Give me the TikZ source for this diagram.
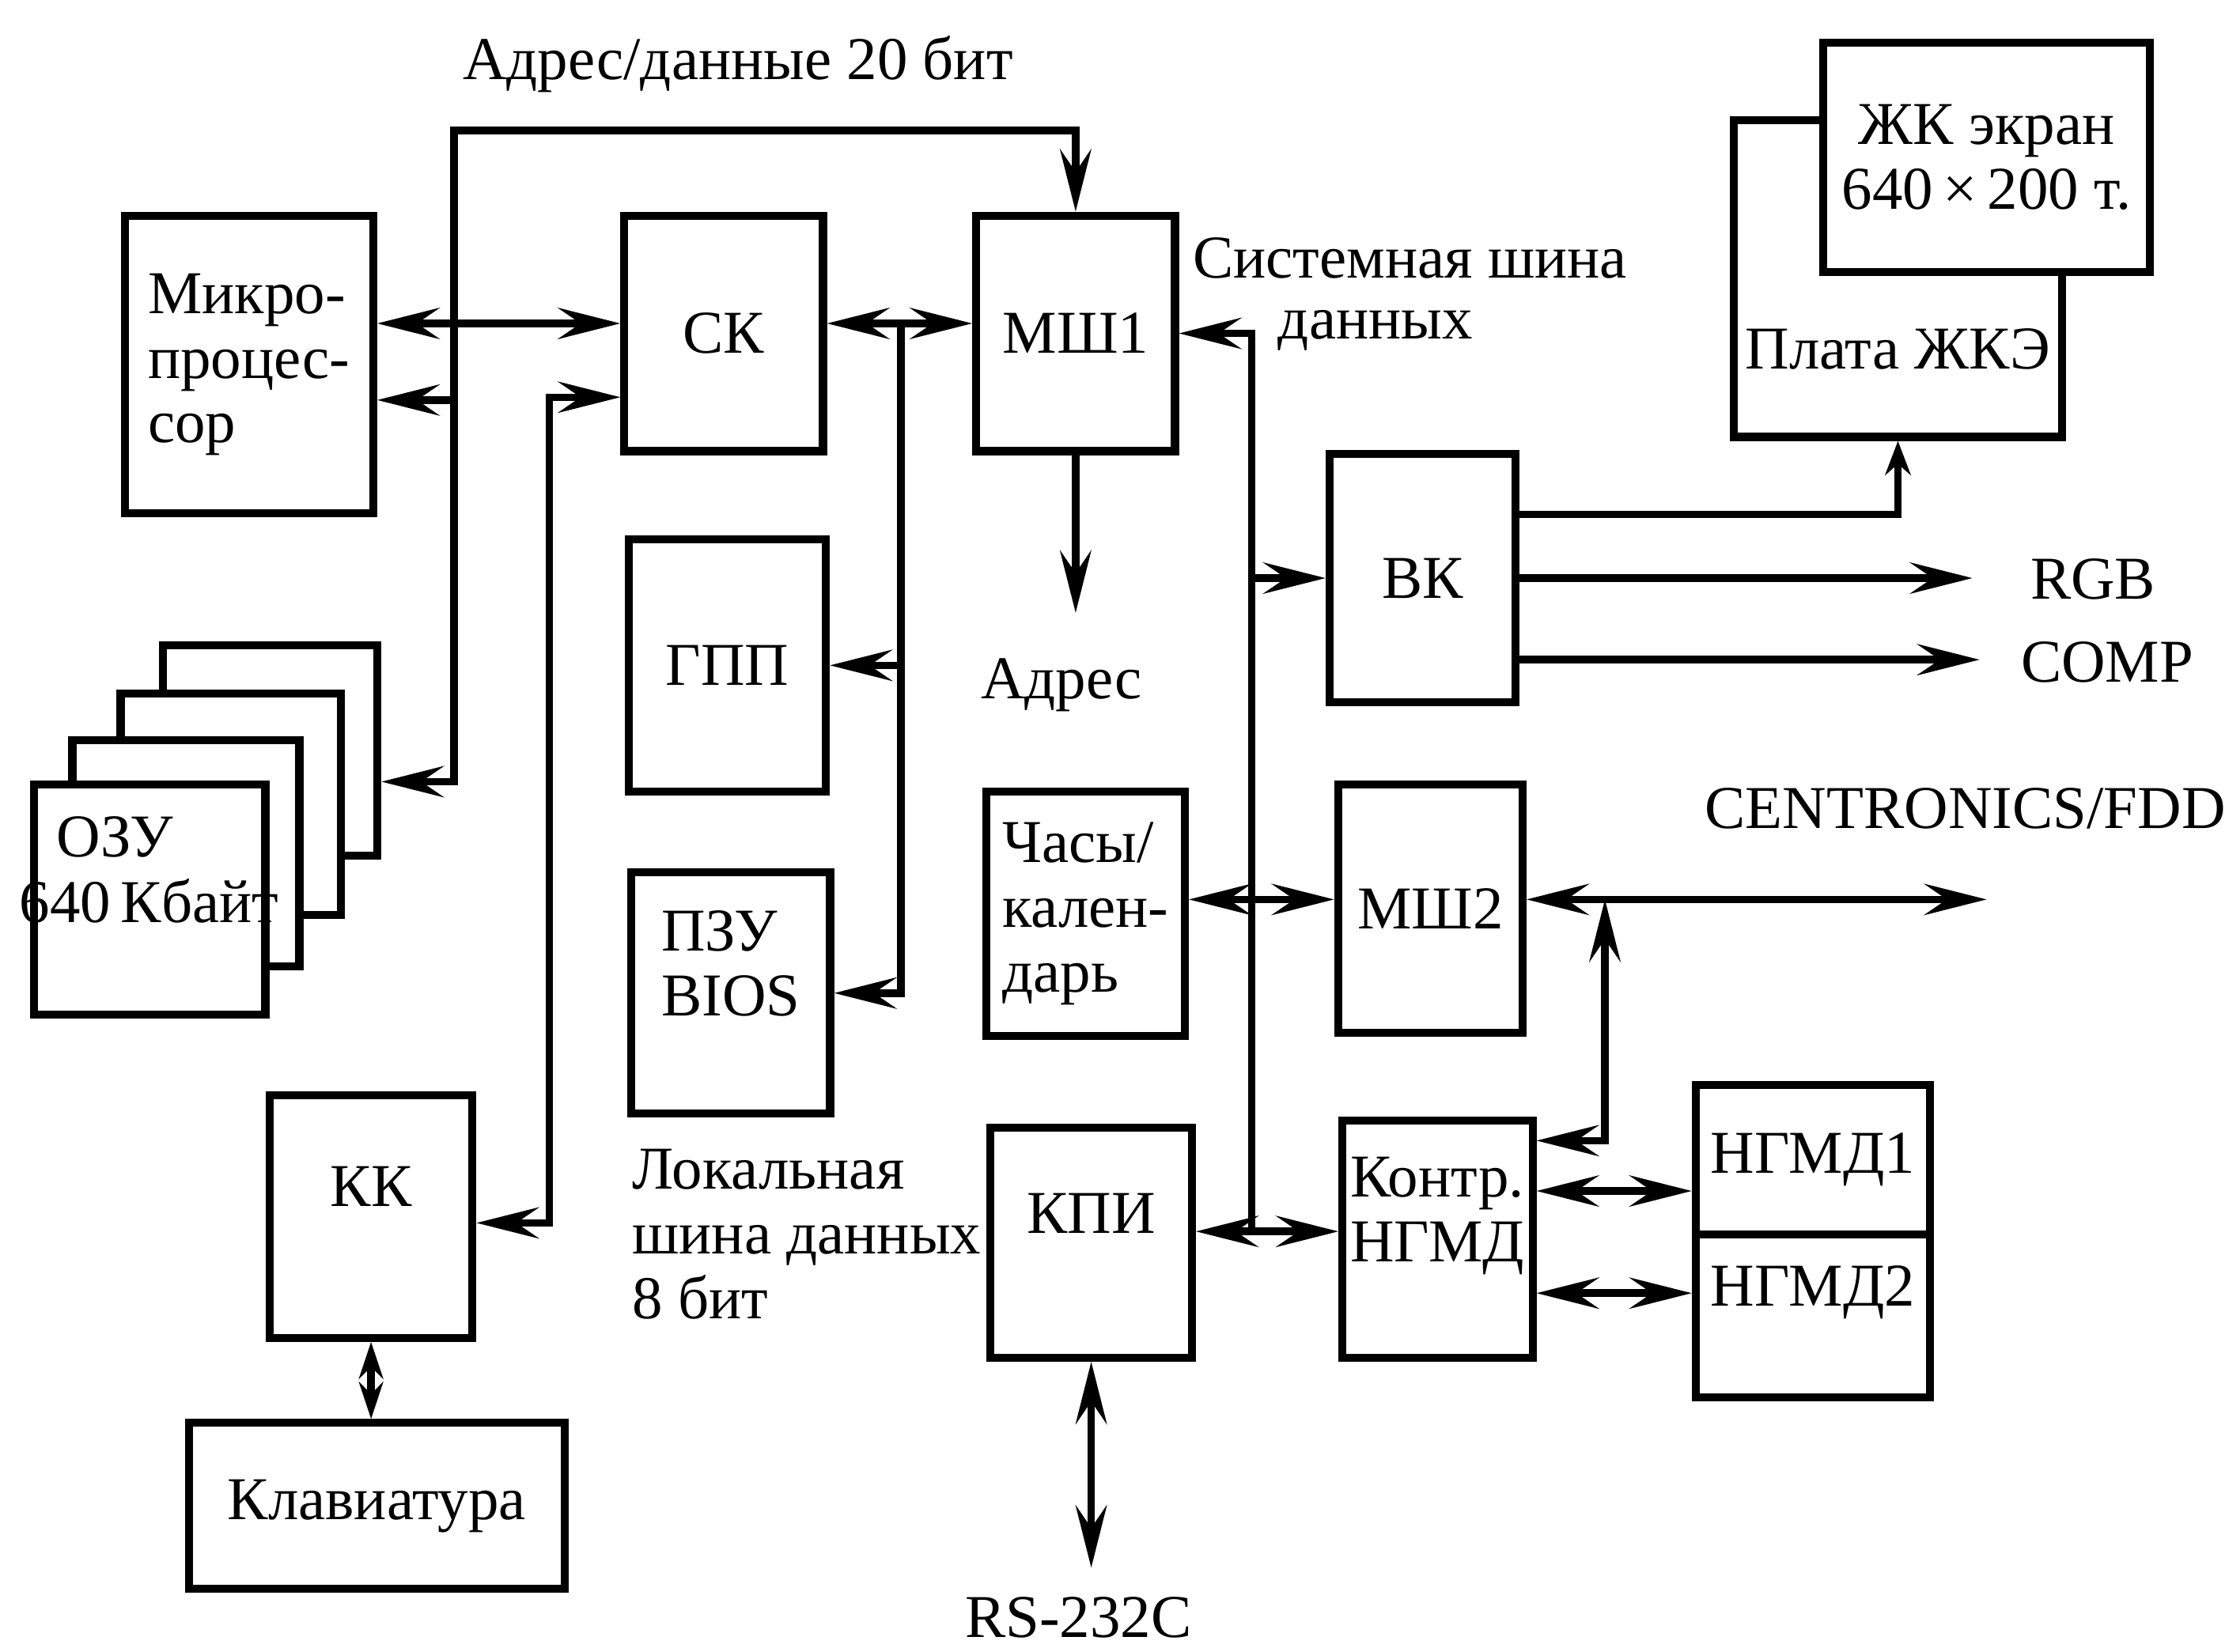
\documentclass[tikz,border=0pt]{standalone}
\usepackage{fontspec}
\setmainfont{Liberation Serif}
\usetikzlibrary{arrows.meta}

\begin{document}
\begin{tikzpicture}[
    >={Stealth[length=4.4mm,width=2.2mm,inset=1.6mm]},
    every node/.style={font=\fontsize{12.2}{13}\selectfont, inner sep=0pt},
    blok/.style={draw, line width=1.6pt, fill=white, align=center},
    lin/.style={line width=1.5pt}
]
    \useasboundingbox (0,0) rectangle (15.68,11.64);

    % bloki
    \node[blok, minimum width=1.75cm, minimum height=2.10cm, align=left] (mp) at (1.755,9.07) {Микро-\\процес-\\сор};
    \node[blok, minimum width=1.40cm, minimum height=1.66cm] (sk) at (5.10,9.29) {СК};
    \node[blok, minimum width=1.40cm, minimum height=1.66cm] (msh1) at (7.58,9.29) {МШ1};
    \node[blok, minimum width=1.39cm, minimum height=1.78cm] (gpp) at (5.125,6.95) {ГПП};
    \node[blok, minimum width=1.40cm, minimum height=1.70cm, align=left, text depth=4.2mm] (pzu) at (5.15,4.64) {ПЗУ\\BIOS};
    \node[blok, minimum width=1.31cm, minimum height=1.75cm] (vk) at (10.025,7.565) {ВК};
    \node[blok, minimum width=1.40cm, minimum height=1.72cm, align=left] (chasy) at (7.65,5.20) {Часы/\\кален-\\дарь};
    \node[blok, minimum width=1.30cm, minimum height=1.75cm] (msh2) at (10.08,5.235) {МШ2};
    \node[blok, minimum width=1.42cm, minimum height=1.62cm, text depth=4.2mm] (kpi) at (7.69,2.88) {КПИ};
    \node[blok, minimum width=1.34cm, minimum height=1.67cm, align=left, text depth=4.2mm] (kngmd) at (10.13,2.905) {Контр.\\НГМД};
    \node[blok, minimum width=1.65cm, minimum height=1.05cm] (ngmd1) at (12.775,3.465) {НГМД1};
    \node[blok, minimum width=1.65cm, minimum height=1.15cm, text depth=4.2mm] (ngmd2) at (12.775,2.365) {НГМД2};
    \node[blok, minimum width=1.43cm, minimum height=1.71cm, text depth=4.2mm] (kk) at (2.615,3.065) {КК};
    \node[blok, minimum width=2.65cm, minimum height=1.17cm] (klav) at (2.655,1.025) {Клавиатура};

    % OZU - 4 platy
    \node[blok, minimum width=1.51cm, minimum height=1.48cm] (ozu1) at (1.905,6.35) {};
    \node[blok, minimum width=1.55cm, minimum height=1.56cm] (ozu2) at (1.625,5.97) {};
    \node[blok, minimum width=1.60cm, minimum height=1.59cm] (ozu3) at (1.31,5.625) {};
    \node[blok, minimum width=1.63cm, minimum height=1.62cm] (ozu4) at (1.055,5.30) {};
    \node (ozuA) at (0.81,5.74) {ОЗУ};
    \node (ozuB) at (1.05,5.29) {640\,Кбайт};

    % ZhK
    \node[blok, minimum width=2.31cm, minimum height=2.23cm, text height=12.7mm] (plata) at (13.375,9.675) {Плата ЖКЭ};
    \node[blok, minimum width=2.30cm, minimum height=1.62cm] (zhk) at (14.00,10.53) {ЖК экран\\640\,×\,200 т.};

    % shina adres/dannye
    \coordinate (abL) at (3.20,10.72);
    \coordinate (abN) at (3.20,6.13);
    \coordinate (jA) at (3.20,9.36);
    \coordinate (jB) at (3.20,8.82);
    \draw[lin,<->] (abN -| ozu1.east) -- (abN) -- (abL) -| (msh1.north);
    \draw[lin,<->] (jA -| mp.east) -- (jA -| sk.west);
    \draw[lin,->] (jB) -- (jB -| mp.east);

    % lokalnaya shina
    \coordinate (lbT) at (3.87,8.84);
    \coordinate (lbB) at (3.87,3.02);
    \coordinate (lv) at (6.35,9.36);
    \draw[lin,<->] (lbB -| kk.east) -- (lbB) -- (lbT) -- (lbT -| sk.west);
    \draw[lin,<->] (jA -| sk.east) -- (jA -| msh1.west);
    \draw[lin,->] (lv) |- (pzu.east);
    \draw[lin,->] (lv |- gpp.east) -- (gpp.east);

    % adres
    \coordinate (adr) at (7.58,7.32);
    \draw[lin,->] (msh1.south) -- (adr);

    % sistemnaya shina
    \coordinate (sbB) at (8.82,2.96);
    \coordinate (sbC) at (8.82,5.30);
    \draw[lin,->] (sbB) |- (msh1.east);
    \draw[lin,->] (sbB |- vk.west) -- (vk.west);
    \draw[lin,<->] (sbC -| chasy.east) -- (sbC -| msh2.west);
    \draw[lin,<->] (sbB -| kpi.east) -- (sbB -| kngmd.west);

    % vyhody VK
    \coordinate (rgb) at (13.90,7.565);
    \coordinate (comp) at (13.95,6.99);
    \draw[lin,-{Stealth[length=2.4mm,width=1.8mm]}] ([yshift=4.5mm]vk.east) -| (plata.south);
    \draw[lin,->] (vk.east) -- (rgb);
    \draw[lin,->] (comp -| vk.east) -- (comp);

    % CENTRONICS/FDD
    \coordinate (cen) at (14.00,5.30);
    \coordinate (cj) at (11.31,5.30);
    \coordinate (cjB) at (11.31,3.60);
    \draw[lin,<->] (cen -| msh2.east) -- (cen);
    \draw[lin,<->] (cjB -| kngmd.east) -- (cjB) -- (cj);
    \draw[lin,<->] ([yshift=3.4mm]kngmd.east) -- ([yshift=3.4mm]kngmd.east -| ngmd1.west);
    \draw[lin,<->] ([yshift=-3.8mm]kngmd.east) -- ([yshift=-3.8mm]kngmd.east -| ngmd2.west);

    % RS-232C, klaviatura
    \coordinate (rs) at (7.69,0.59);
    \draw[lin,<->] (kpi.south) -- (rs);
    \draw[lin,<->,>={Stealth[length=2.6mm,width=1.7mm]}] (kk.south) -- (kk.south |- klav.north);

    % nadpisi
    \node (adrT) at (5.20,11.19) {Адрес/данные 20 бит};
    \node (adrT2) at (7.48,6.81) {Адрес};
    \node[anchor=west] (sysT1) at (8.40,9.82) {Системная шина};
    \node[anchor=west] (sysT2) at (9.00,9.31) {данных};
    \node[anchor=west, align=left] (lokT) at (4.45,2.94) {Локальная\\шина данных\\8 бит};
    \node (rgbT) at (14.75,7.56) {RGB};
    \node (compT) at (14.85,6.97) {COMP};
    \node (cenT) at (13.85,5.94) {CENTRONICS/FDD};
    \node (rsT) at (7.60,0.24) {RS-232C};
\end{tikzpicture}
\end{document}
